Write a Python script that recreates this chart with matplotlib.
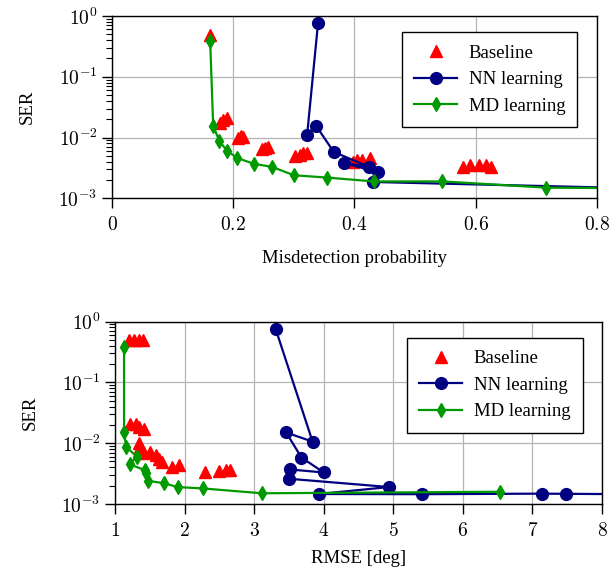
import numpy as np
import matplotlib
matplotlib.use("Agg")
import matplotlib.pyplot as plt
from matplotlib.ticker import FixedLocator, FuncFormatter, LogLocator, NullFormatter

plt.rcParams['font.family'] = ['Liberation Serif', 'DejaVu Serif']
plt.rcParams['mathtext.fontset'] = 'cm'

# top panel: misdetection probability vs SER
base_md_x = [0.162, 0.178, 0.184, 0.190, 0.208, 0.213, 0.217, 0.247, 0.252, 0.258,
             0.302, 0.310, 0.315, 0.321, 0.398, 0.405, 0.412, 0.426,
             0.580, 0.591, 0.606, 0.618, 0.626]
base_md_y = [0.48, 0.0175, 0.0194, 0.0207, 0.0098, 0.0105, 0.0103, 0.0066, 0.0068, 0.0071,
             0.0049, 0.0052, 0.0055, 0.0055, 0.0040, 0.0042, 0.0043, 0.0046,
             0.0033, 0.0035, 0.0036, 0.0035, 0.0033]

nn_md_x = [0.340, 0.322, 0.337, 0.366, 0.424, 0.383, 0.439, 0.431, 0.95]
nn_md_y = [0.76, 0.011, 0.0155, 0.0058, 0.0033, 0.0038, 0.0027, 0.00186, 0.00140]

mdl_md_x = [0.162, 0.167, 0.177, 0.190, 0.207, 0.234, 0.264, 0.300, 0.354, 0.432, 0.545, 0.717, 0.95]
mdl_md_y = [0.39, 0.0155, 0.0089, 0.0060, 0.0046, 0.0037, 0.0033, 0.0024, 0.0022, 0.0019, 0.0019, 0.0015, 0.00145]

# bottom panel: RMSE vs SER
base_rm_x = [1.20, 1.27, 1.35, 1.40, 1.21, 1.30, 1.35, 1.42, 1.34, 1.36,
             1.42, 1.51, 1.59, 1.63, 1.68, 1.82, 1.92, 2.30, 2.50, 2.59, 2.66]
base_rm_y = [0.50, 0.50, 0.50, 0.49, 0.0205, 0.021, 0.0186, 0.017, 0.0099, 0.0087,
             0.0069, 0.0072, 0.0063, 0.0054, 0.0049, 0.0041, 0.0044, 0.0034, 0.0035, 0.0036, 0.0036]

nn_rm_x = [3.31, 3.84, 3.46, 3.68, 4.00, 3.51, 3.50, 4.94, 3.93, 5.41, 7.14, 7.48, 8.8]
nn_rm_y = [0.75, 0.0106, 0.015, 0.0058, 0.0033, 0.0037, 0.0026, 0.0019, 0.00146, 0.00145, 0.00148, 0.00147, 0.00144]

mdl_rm_x = [1.13, 1.13, 1.16, 1.31, 1.21, 1.43, 1.44, 1.48, 1.70, 1.90, 2.27, 3.11, 6.53]
mdl_rm_y = [0.38, 0.0155, 0.0088, 0.0060, 0.0045, 0.0036, 0.0032, 0.0024, 0.0022, 0.0019, 0.0018, 0.0015, 0.00159]

red = '#ff0000'
navy = '#000080'
green = '#009900'

fig = plt.figure(figsize=(6.16, 5.70), dpi=100)
ax1 = fig.add_axes([0.1818, 0.652, 0.787, 0.320])
ax2 = fig.add_axes([0.1867, 0.1158, 0.7906, 0.320])


def style(ax, xticks):
    ax.set_yscale('log')
    ax.set_ylim(1e-3, 1)
    ax.xaxis.set_major_locator(FixedLocator(xticks))
    ax.xaxis.set_major_formatter(FuncFormatter(lambda v, p: r'$%g$' % v))
    ax.yaxis.set_major_locator(FixedLocator([1e-3, 1e-2, 1e-1, 1]))
    ax.yaxis.set_major_formatter(FuncFormatter(lambda v, p: r'$10^{%d}$' % round(np.log10(v))))
    ax.yaxis.set_minor_locator(LogLocator(base=10, subs=np.arange(2, 10)))
    ax.yaxis.set_minor_formatter(NullFormatter())
    ax.grid(True, which='major', color='#b3b3b3', linewidth=0.9)
    ax.set_axisbelow(True)
    ax.tick_params(which='major', direction='out', length=7, width=1, labelsize=14,
                   top=False, right=False)
    ax.tick_params(axis='x', which='major', pad=6)
    ax.tick_params(which='minor', direction='out', length=4.5, width=0.8, top=False, right=False)
    for s in ax.spines.values():
        s.set_linewidth(1.0)
    ax.set_ylabel('SER', fontsize=13.5, labelpad=16)
    leg = ax.legend(loc='upper right', bbox_to_anchor=(0.96, 0.91), fontsize=13.5,
                    fancybox=False, framealpha=1, edgecolor='black', borderaxespad=0,
                    handlelength=2.3, labelspacing=0.5, borderpad=0.65, handletextpad=0.6)
    leg.get_frame().set_linewidth(1.0)


for ax, bx, by, nx, ny, mx, my in [
        (ax1, base_md_x, base_md_y, nn_md_x, nn_md_y, mdl_md_x, mdl_md_y),
        (ax2, base_rm_x, base_rm_y, nn_rm_x, nn_rm_y, mdl_rm_x, mdl_rm_y)]:
    ax.plot(bx, by, linestyle='none', marker='^', color=red, markersize=8, label='Baseline')
    ax.plot(nx, ny, color=navy, marker='o', markersize=8.5, linewidth=1.6, label='NN learning')
    ax.plot(mx, my, color=green, marker='d', markersize=7, linewidth=1.6, label='MD learning')

ax1.set_xlim(0, 0.8)
style(ax1, [0, 0.2, 0.4, 0.6, 0.8])
ax1.set_xlabel('Misdetection probability', fontsize=13.5, labelpad=11)

ax2.set_xlim(1, 8)
style(ax2, [1, 2, 3, 4, 5, 6, 7, 8])
ax2.set_xlabel('RMSE [deg]', fontsize=13.5, labelpad=7)

fig.savefig('out.png', dpi=100)
